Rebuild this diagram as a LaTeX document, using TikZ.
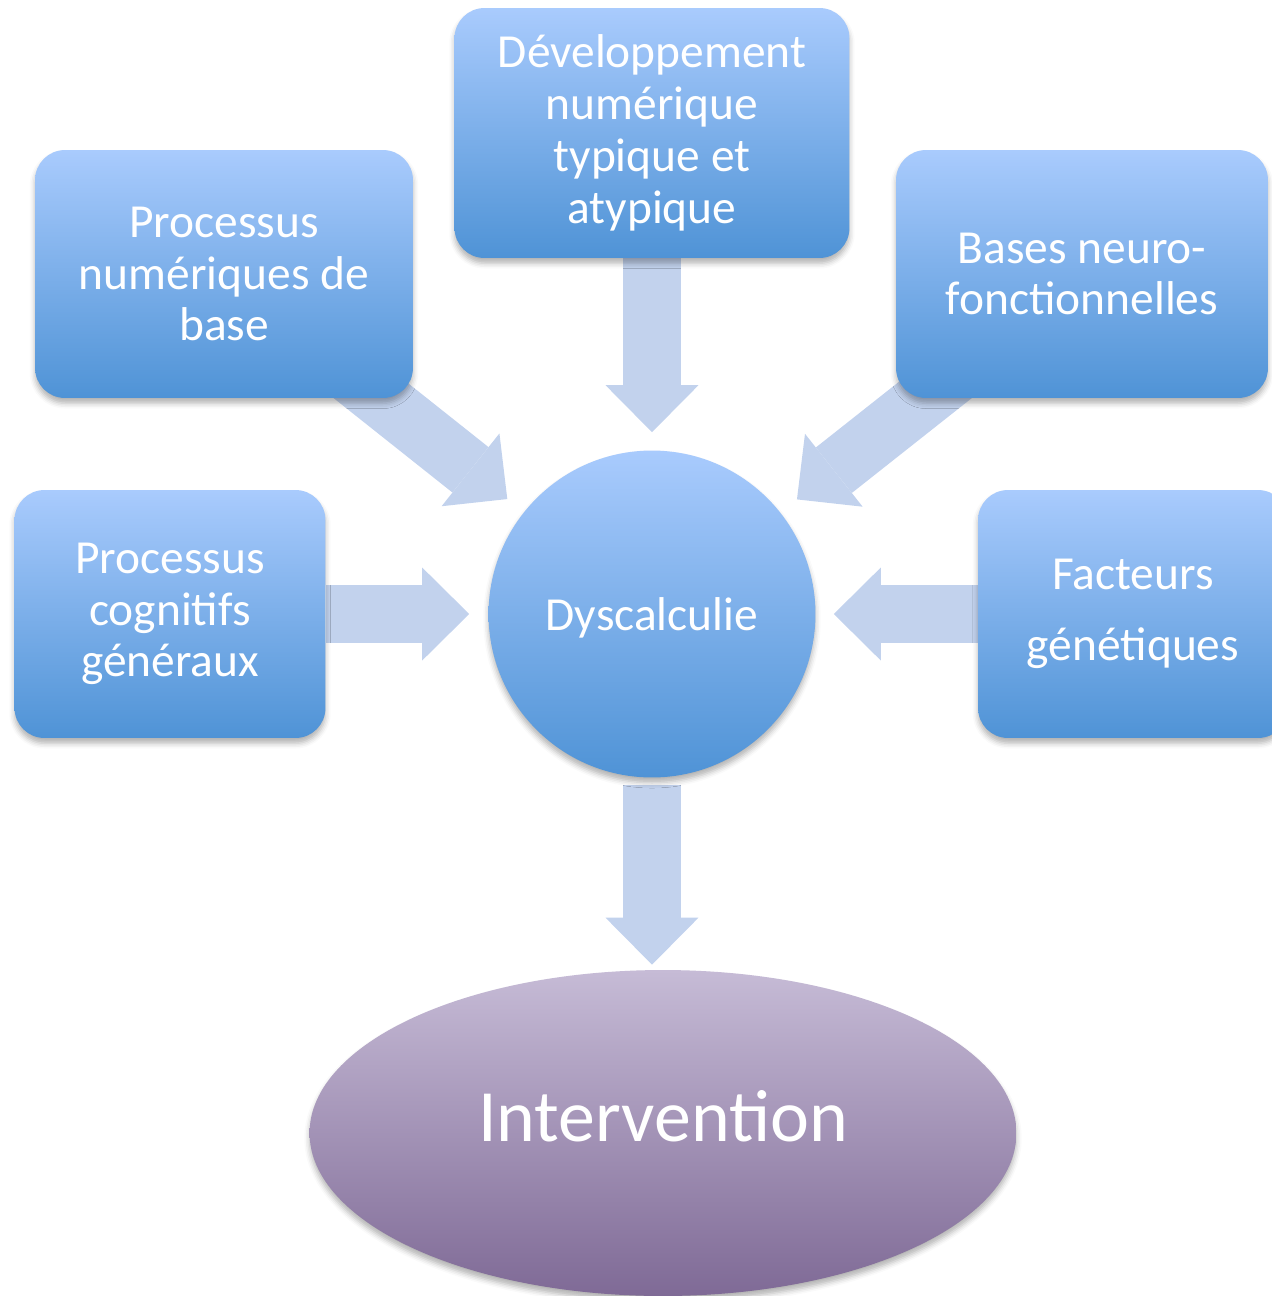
\documentclass[tikz,border=0pt]{standalone}
\usepackage{fontspec}
\setmainfont{Carlito}
\usetikzlibrary{arrows.meta,shapes.geometric,backgrounds,shadows.blur}
\definecolor{boxtop}{RGB}{169,203,253}
\definecolor{boxbot}{RGB}{79,147,214}
\definecolor{arrowblue}{RGB}{194,210,237}
\definecolor{ivtop}{RGB}{198,187,214}
\definecolor{ivbot}{RGB}{127,106,150}
\tikzset{
	boxshadow/.style={blur shadow={shadow xshift=0pt,shadow yshift=-3pt,shadow blur radius=3pt,shadow opacity=30}},
	bluebox/.style={rectangle,rounded corners=0.6cm,top color=boxtop,bottom color=boxbot,text=white,align=center,inner sep=0pt,boxshadow,font=\fontsize{27}{29.5}\selectfont},
	bigarrow/.style={line width=1.16cm,color=arrowblue,-{Triangle[width=1.86cm,length=0.94cm,line width=0pt,fill=arrowblue]}}
}
\begin{document}
\begin{tikzpicture}[x=0.02cm,y=-0.02cm]
	\useasboundingbox (0,0) rectangle (1272,1296);
	\node[bluebox,minimum width=7.9cm,minimum height=5cm] at (652,133)(dev){Développement\\numérique\\typique et\\atypique};
	\node[bluebox,minimum width=7.56cm,minimum height=4.96cm] at (224,274)(pnum){Processus\\numériques de\\base};
	\node[bluebox,minimum width=7.44cm,minimum height=4.96cm] at (1082,274)(bases){Bases neuro-\\fonctionnelles};
	\node[bluebox,minimum width=6.22cm,minimum height=4.96cm] at (170,614)(cogn){Processus\\cognitifs\\généraux};
	\node[bluebox,minimum width=6.2cm,minimum height=4.96cm,font=\fontsize{27}{40.5}\selectfont] at (1133,614)(fact){Facteurs\\génétiques};
	\node[bluebox,circle,minimum size=6.54cm,text depth=-0.1cm] at (652,614)(dys){Dyscalculie};
	\node[ellipse,minimum width=14.14cm,minimum height=6.52cm,inner sep=0pt,top color=ivtop,bottom color=ivbot,text=white,boxshadow,text depth=0.68cm,font=\fontsize{42}{50}\selectfont] at (663,1133)(interv){Intervention};

	\begin{scope}[on background layer]
	\path[bigarrow] (dev)edge[shorten >=0.36cm](dys)
		(pnum.center)edge[shorten >=0.42cm](dys)
		(bases.center)edge[shorten >=0.42cm](dys)
		(cogn)edge[shorten >=0.38cm](dys)
		(fact)edge[shorten >=0.36cm](dys)
		(dys)edge[shorten <=0.14cm,shorten >=0.1cm](dys |- interv.north);
	\end{scope}
\end{tikzpicture}
\end{document}
